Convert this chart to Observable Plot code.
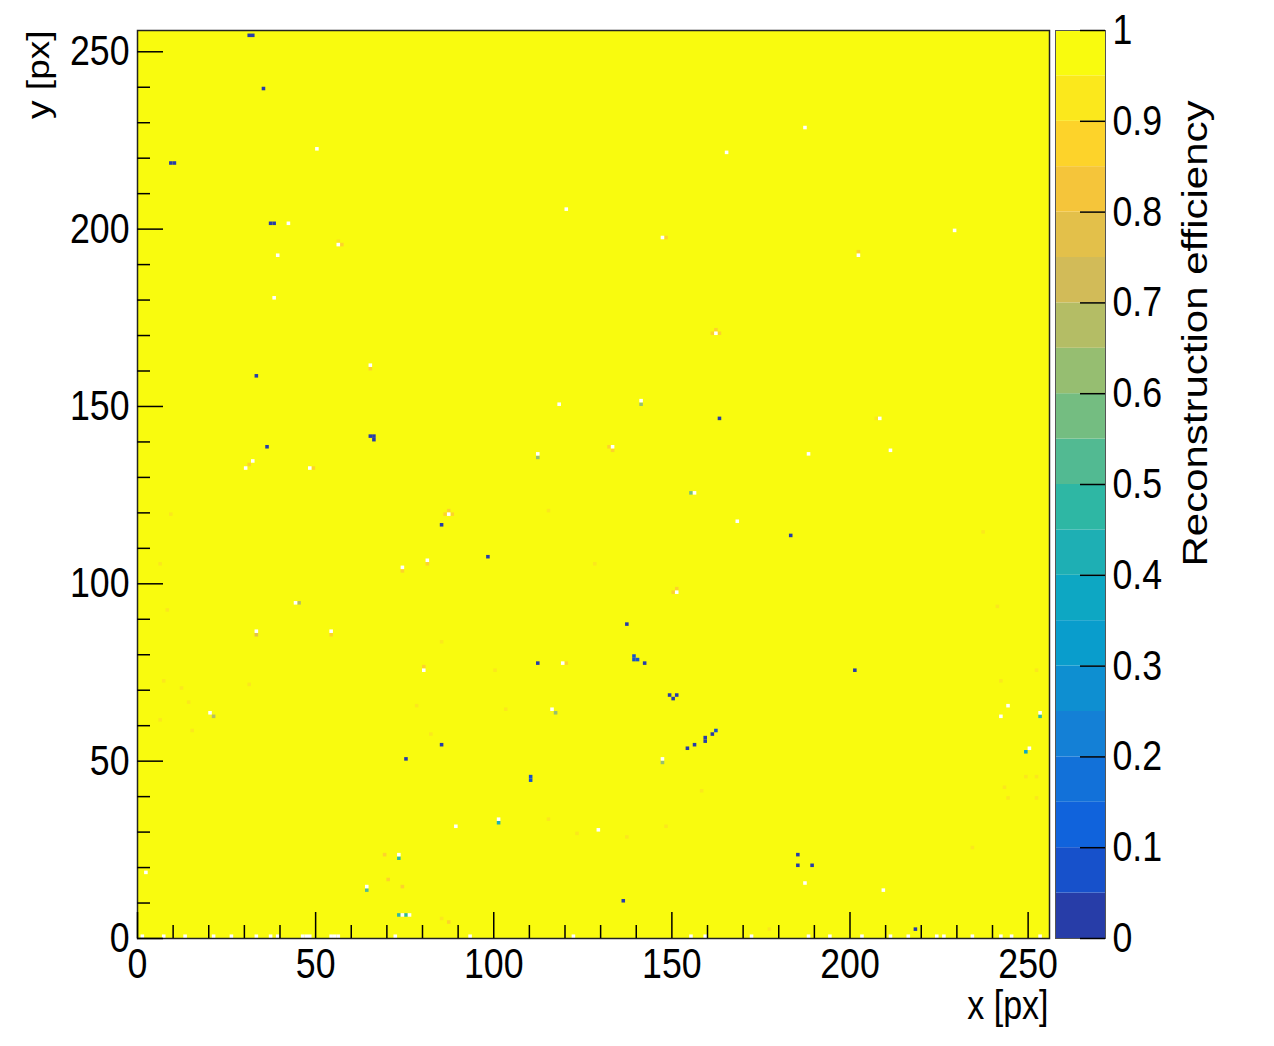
<!DOCTYPE html>
<html>
<head>
<meta charset="utf-8">
<script src="https://cdn.jsdelivr.net/npm/d3@7"></script>
<script src="https://cdn.jsdelivr.net/npm/@observablehq/plot@0.6"></script>
<style>
  html, body { margin: 0; padding: 0; background: white; }
  #chart { position: relative; width: 1274px; height: 1046px; }
  #chart svg { position: absolute; top: 0; }
</style>
</head>
<body>
<div id="chart"></div>
<script>
// 256 x 256 pixel matrix, efficiency is 1 everywhere except for the pixels below
const nPixels = 256;
const zMax = 1;

// [x, y, efficiency] - nearly dead pixels (dark blue)
const darkPixels = [
  [31, 254, 0.03], [32, 254, 0.03], [35, 239, 0.04], [9, 218, 0.03], [10, 218, 0.03],
  [37, 201, 0.03], [38, 201, 0.03], [33, 158, 0.04], [65, 141, 0.03], [66, 141, 0.03],
  [66, 140, 0.03], [36, 138, 0.04], [85, 116, 0.03], [98, 107, 0.04], [112, 77, 0.03],
  [85, 54, 0.03], [75, 50, 0.03], [110, 44, 0.06], [110, 45, 0.06], [137, 88, 0.03],
  [139, 78, 0.07], [139, 79, 0.07], [140, 78, 0.07], [142, 77, 0.03], [149, 68, 0.03],
  [150, 67, 0.03], [151, 68, 0.03], [154, 53, 0.03], [156, 54, 0.03], [159, 55, 0.04],
  [159, 56, 0.04], [161, 57, 0.03], [162, 58, 0.06], [163, 146, 0.03], [183, 113, 0.03],
  [201, 75, 0.03], [185, 23, 0.03], [185, 20, 0.03], [189, 20, 0.04], [136, 10, 0.04],
  [218, 2, 0.04]
];

// [x, y, efficiency] - partly efficient pixels (teal / green)
const partialPixels = [
  [155, 125, 0.55], [141, 150, 0.62], [112, 135, 0.63], [101, 32, 0.4], [73, 22, 0.47],
  [64, 13, 0.52], [73, 6, 0.45], [75, 6, 0.45], [21, 62, 0.68], [117, 63, 0.62],
  [147, 49, 0.6], [253, 62, 0.47], [249, 52, 0.38], [45, 94, 0.68], [33, 85, 0.75]
];

// [x, y, efficiency] - slightly low pixels (orange / gold)
const lowPixels = [
  [57, 195, 0.88], [56, 196, 0.9], [86, 119, 0.87], [88, 119, 0.88], [87, 120, 0.86],
  [202, 193, 0.86], [161, 170, 0.88], [163, 170, 0.88], [162, 171, 0.87], [148, 197, 0.86],
  [132, 138, 0.88], [133, 137, 0.88], [207, 146, 0.9], [65, 160, 0.86], [31, 133, 0.86],
  [49, 132, 0.88], [150, 97, 0.86], [151, 98, 0.86], [74, 103, 0.88], [81, 105, 0.88],
  [80, 76, 0.88], [120, 77, 0.86], [54, 85, 0.86],
  [9, 119, 0.92], [6, 105, 0.9], [8, 92, 0.92], [7, 72, 0.9], [12, 70, 0.92],
  [14, 66, 0.9], [6, 61, 0.92], [15, 58, 0.9], [31, 71, 0.92], [85, 83, 0.9],
  [78, 65, 0.92], [82, 57, 0.9], [103, 64, 0.92], [100, 75, 0.9], [115, 120, 0.92],
  [115, 33, 0.9], [123, 29, 0.92], [69, 23, 0.88], [70, 16, 0.88], [74, 14, 0.89],
  [87, 4, 0.89], [85, 5, 0.9], [128, 105, 0.9], [237, 114, 0.92], [241, 93, 0.9],
  [252, 75, 0.9], [242, 72, 0.92], [249, 45, 0.9], [252, 45, 0.9], [243, 42, 0.92],
  [244, 39, 0.9], [252, 39, 0.92], [158, 41, 0.9], [148, 31, 0.9], [137, 28, 0.92],
  [234, 25, 0.9], [177, 2, 0.9]
];

// [x, y, efficiency] - above the z maximum, ROOT leaves them unpainted (white)
const hotPixels = [
  [50, 222, 1.06], [42, 201, 1.05], [56, 195, 1.08], [39, 192, 1.05], [38, 180, 1.05],
  [120, 205, 1.05], [65, 161, 1.07], [118, 150, 1.05], [30, 132, 1.06], [32, 134, 1.06],
  [48, 132, 1.05], [187, 228, 1.05], [165, 221, 1.05], [229, 199, 1.05], [147, 197, 1.06],
  [202, 192, 1.07], [162, 170, 1.08], [133, 138, 1.06], [208, 146, 1.06], [211, 137, 1.05],
  [188, 136, 1.05], [54, 86, 1.05], [74, 104, 1.06], [81, 106, 1.06], [87, 119, 1.08],
  [80, 75, 1.06], [119, 77, 1.05], [89, 31, 1.05], [2, 18, 1.05], [168, 117, 1.05],
  [151, 97, 1.06], [129, 30, 1.05], [187, 15, 1.05], [209, 13, 1.05], [244, 65, 1.05],
  [242, 62, 1.05], [156, 125, 1.05], [141, 151, 1.05], [112, 136, 1.05], [101, 33, 1.05],
  [73, 23, 1.05], [64, 14, 1.05], [74, 6, 1.05], [76, 6, 1.05], [20, 63, 1.05],
  [116, 64, 1.05], [147, 50, 1.05], [253, 63, 1.05], [250, 53, 1.05], [44, 94, 1.05],
  [33, 86, 1.05],
  [1, 0, 1.04], [7, 0, 1.04], [13, 0, 1.04], [21, 0, 1.04], [26, 0, 1.04], [33, 0, 1.04],
  [37, 0, 1.04], [39, 0, 1.04], [46, 0, 1.04], [47, 0, 1.04], [48, 0, 1.04], [54, 0, 1.04],
  [55, 0, 1.04], [56, 0, 1.04], [72, 0, 1.04], [93, 0, 1.04], [122, 0, 1.04], [155, 0, 1.04],
  [159, 0, 1.04], [172, 0, 1.04], [188, 0, 1.04], [194, 0, 1.04], [203, 0, 1.04], [211, 0, 1.04],
  [216, 0, 1.04], [224, 0, 1.04], [226, 0, 1.04], [234, 0, 1.04], [242, 0, 1.04], [245, 0, 1.04],
  [253, 0, 1.04]
];

const xMajorTicks = [0, 50, 100, 150, 200, 250];
const xMinorTicks = [10, 20, 30, 40, 60, 70, 80, 90, 110, 120, 130, 140, 160, 170, 180, 190, 210, 220, 230, 240];
const yMajorTicks = [0, 50, 100, 150, 200, 250];
const yMinorTicks = [10, 20, 30, 40, 60, 70, 80, 90, 110, 120, 130, 140, 160, 170, 180, 190, 210, 220, 230, 240];
const zTicks = [0, 0.1, 0.2, 0.3, 0.4, 0.5, 0.6, 0.7, 0.8, 0.9, 1];
const zTickLabels = ["0", "0.1", "0.2", "0.3", "0.4", "0.5", "0.6", "0.7", "0.8", "0.9", "1"];
// 20 contour levels of the colz palette
const zEdges = [0, 0.05, 0.1, 0.15, 0.2, 0.25, 0.3, 0.35, 0.4, 0.45, 0.5,
  0.55, 0.6, 0.65, 0.7, 0.75, 0.8, 0.85, 0.9, 0.95, 1];

// ROOT kBird palette stops
const birdStops = ["#352a87", "#0f5cdd", "#1481d6", "#06a4ca", "#2eb7a4",
  "#87bf77", "#d1bb59", "#fec832", "#f9fb0e"];
const bird = d3.piecewise(d3.interpolateRgb, birdStops);
const nLevels = zEdges.length - 1;
const levelColors = d3.range(nLevels).map(i =>
  bird(Math.min(1, Math.floor((i + 0.99) * 255 / nLevels) / 254)));

const color = {type: "threshold", domain: zEdges.slice(1, -1), range: levelColors};

const toRow = ([x, y, eff]) => ({x, y, eff});
const painted = [...lowPixels, ...partialPixels, ...darkPixels].map(toRow);
const unpainted = hotPixels.map(toRow).filter(d => d.eff > zMax);
const background = [{eff: zMax}];

const W = 1060, H = 1046;
const mL = 137, mR = 11, mT = 30, mB = 108;
const innerW = W - mL - mR, innerH = H - mT - mB;
const font = "'Liberation Sans', Arial, Helvetica, sans-serif";
const fs = 42;

const main = Plot.plot({
  width: W, height: H,
  marginLeft: mL, marginRight: mR, marginTop: mT, marginBottom: mB,
  x: {domain: [0, nPixels], axis: null},
  y: {domain: [0, nPixels], axis: null},
  color,
  style: {fontFamily: font, color: "black", background: "white", overflow: "visible"},
  marks: [
    Plot.rect(background, {x1: 0, x2: nPixels, y1: 0, y2: nPixels, fill: "eff"}),
    Plot.rect(painted, {x1: "x", x2: d => d.x + 1, y1: "y", y2: d => d.y + 1, fill: "eff"}),
    Plot.rect(unpainted, {x1: "x", x2: d => d.x + 1, y1: "y", y2: d => d.y + 1, fill: "white"}),
    Plot.frame({stroke: "#222", strokeWidth: 1.5}),
    Plot.tickX(xMajorTicks, {x: d => d, insetTop: innerH - 26, stroke: "black", strokeWidth: 1.5}),
    Plot.tickX(xMinorTicks, {x: d => d, insetTop: innerH - 13, stroke: "black", strokeWidth: 1.5}),
    Plot.tickY(yMajorTicks, {y: d => d, insetRight: innerW - 26, stroke: "black", strokeWidth: 1.5}),
    Plot.tickY(yMinorTicks, {y: d => d, insetRight: innerW - 13, stroke: "black", strokeWidth: 1.5}),
    Plot.text(xMajorTicks, {x: d => d, text: d => String(d), frameAnchor: "bottom", dy: 26,
      lineAnchor: "middle", fontSize: fs, fill: "black"}),
    Plot.text(yMajorTicks, {y: d => d, text: d => String(d), frameAnchor: "left", dx: -8,
      textAnchor: "end", lineAnchor: "middle", fontSize: fs, fill: "black"}),
    Plot.text(["x [px]"], {frameAnchor: "bottom-right", dx: -1, dy: 68, textAnchor: "end",
      lineAnchor: "middle", fontSize: 40, fill: "black"}),
    Plot.text(["y [px]"], {frameAnchor: "top-left", dx: -99, dy: 0, rotate: -90, textAnchor: "end",
      lineAnchor: "middle", fontSize: 37, fill: "black"})
  ]
});

const bar = Plot.plot({
  width: 234, height: H,
  marginLeft: 15, marginRight: 169, marginTop: mT, marginBottom: mB,
  y: {domain: [0, zMax], axis: null},
  color,
  style: {fontFamily: font, color: "black", background: "transparent", overflow: "visible"},
  marks: [
    Plot.rect(zEdges.slice(0, -1), {y1: d => d, y2: (d, i) => zEdges[i + 1], fill: d => d}),
    Plot.frame({stroke: "#555", strokeWidth: 1}),
    Plot.tickY(zTicks, {y: d => d, insetLeft: 25, stroke: "black", strokeWidth: 1.5}),
    Plot.text(zTicks, {y: d => d, text: (d, i) => zTickLabels[i], frameAnchor: "right", dx: 7,
      textAnchor: "start", lineAnchor: "middle", fontSize: fs, fill: "black"}),
    Plot.text(["Reconstruction efficiency"], {frameAnchor: "top-right", dx: 90, dy: 70, rotate: -90,
      textAnchor: "end", lineAnchor: "middle", fontSize: fs, fill: "black"})
  ]
});

main.style.left = "0px";
bar.style.left = "1040px";

// the reference is squeezed horizontally, so are its glyphs
for (const svg of [main, bar]) {
  svg.querySelectorAll("text").forEach(t => {
    const tr = t.getAttribute("transform") || "";
    t.setAttribute("transform", tr + (tr.includes("rotate") ? " scale(1,0.85)" : " scale(0.85,1)"));
  });
}

const chart = document.getElementById("chart");
chart.append(main, bar);
</script>
</body>
</html>
